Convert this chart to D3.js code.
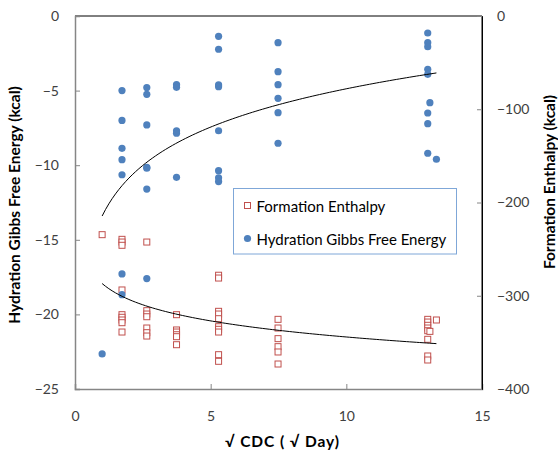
<!DOCTYPE html>
<html><head><meta charset="utf-8">
<script src="https://cdn.jsdelivr.net/npm/d3@7"></script>
<style>body{margin:0;background:#fff;} svg{display:block;font-family:Lato,"Liberation Sans",sans-serif;}</style>
</head><body>
<script>
const xTicks = [0, 5, 10, 15];
const leftTicks = [0, -5, -10, -15, -20, -25];
const rightTicks = [0, -100, -200, -300, -400];
const seriesNames = ["Formation Enthalpy", "Hydration Gibbs Free Energy"];

const gibbsX = [1,
  1.732,1.732,1.732,1.732,1.732,1.732,1.732,
  2.646,2.646,2.646,2.646,2.646,2.646,2.646,
  3.742,3.742,3.742,3.742,3.742,
  5.292,5.292,5.292,5.292,5.292,5.292,5.292,5.292,
  7.483,7.483,7.483,7.483,7.483,7.483,
  13,13,13,13,13,13,13,13,
  13.08,13.32];
const gibbsY = [-22.65,
  -5.0,-7.0,-8.87,-9.63,-10.64,-17.29,-18.68,
  -4.8,-5.25,-7.3,-10.14,-10.2,-11.6,-17.6,
  -4.6,-4.78,-7.69,-7.86,-10.81,
  -1.36,-2.23,-4.62,-4.74,-7.69,-10.37,-10.84,-11.1,
  -1.79,-3.73,-4.6,-5.52,-6.48,-8.53,
  -1.14,-1.79,-2.06,-3.57,-3.91,-6.5,-7.22,-9.2,
  -5.81,-9.6];

const enthX = [1,
  1.732,1.732,1.732,1.732,1.732,1.732,1.732,1.732,1.732,
  2.646,2.646,2.646,2.646,2.646,2.646,2.646,
  3.742,3.742,3.742,3.742,3.742,3.742,
  5.292,5.292,5.292,5.292,5.292,5.292,5.292,5.292,5.292,5.292,
  7.483,7.483,7.483,7.483,7.483,7.483,
  13,13,13,13,13,13,13,13,
  13.08,13.32];
const enthY = [-234.5,
  -239.5,-242.4,-245.9,-293.8,-320.3,-323.1,-326,-328.9,-338.9,
  -242.4,-316,-319.6,-322.5,-334.6,-339.6,-343.2,
  -320.3,-336.7,-338.9,-341.8,-343.9,-352.5,
  -278,-281,-316.7,-319.6,-324.6,-333.2,-336,-338.9,-363.2,-370.3,
  -325.3,-334.6,-346,-354.6,-360.3,-373.2,
  -325.3,-328.2,-331.7,-334.6,-337.5,-346.7,-364.6,-368.9,
  -338.2,-326];

const W = 558, H = 459;
const m = {left: 75, top: 16, right: 76, bottom: 70};
const pw = W - m.left - m.right, ph = H - m.top - m.bottom;

const svg = d3.select("body").append("svg").attr("width", W).attr("height", H);
const g = svg.append("g").attr("transform", `translate(${m.left},${m.top})`);

const x = d3.scaleLinear().domain([0, 15]).range([0, pw]);
const yL = d3.scaleLinear().domain([-25, 0]).range([ph, 0]);
const yR = d3.scaleLinear().domain([-400, 0]).range([ph, 0]);

// logarithmic trendline y = a + b ln x (least squares, as in the spreadsheet)
function logFit(xs, ys) {
  const lx = xs.map(Math.log);
  const mx = d3.mean(lx), my = d3.mean(ys);
  let sxy = 0, sxx = 0;
  lx.forEach((v, i) => { sxy += (v - mx) * (ys[i] - my); sxx += (v - mx) * (v - mx); });
  const b = sxy / sxx;
  return {a: my - b * mx, b};
}

// border
g.append("line").attr("x1", 0).attr("x2", pw).attr("y1", 0).attr("y2", 0).attr("stroke", "#000").attr("stroke-width", 1);
g.append("line").attr("x1", pw).attr("x2", pw).attr("y1", 0).attr("y2", ph).attr("stroke", "#000").attr("stroke-width", 1);

const tickColor = "#868686";
const ax = g.append("g").call(d3.axisLeft(yL).tickValues(leftTicks).tickSize(-5).tickPadding(16).tickFormat(d3.format("d")));
const bx = g.append("g").attr("transform", `translate(0,${ph})`).call(d3.axisBottom(x).tickValues(xTicks).tickSize(-5).tickPadding(22).tickFormat(d3.format("d")));
const rx = g.append("g").attr("transform", `translate(${pw},0)`).call(d3.axisRight(yR).tickValues(rightTicks).tickSize(-5).tickPadding(15).tickFormat(d3.format("d")));
[ax, bx, rx].forEach(a => {
  a.selectAll("path").attr("stroke", tickColor).attr("stroke-width", 1.5);
  a.selectAll("line").attr("stroke", tickColor);
  a.selectAll("text").attr("font-size", 14).attr("fill", "#404040").attr("font-family", "Lato, sans-serif");
});
rx.select("path").attr("stroke", "#000").attr("stroke-width", 1);

const gibbs = gibbsX.map((v, i) => ({x: v, y: gibbsY[i]}));
const enth = enthX.map((v, i) => ({x: v, y: enthY[i]}));

g.append("g").selectAll("rect").data(enth).join("rect")
  .attr("x", d => x(d.x) - 3).attr("y", d => yR(d.y) - 3)
  .attr("width", 6).attr("height", 6)
  .attr("fill", "#fff").attr("stroke", "#c0504d").attr("stroke-width", 1);

g.append("g").selectAll("circle").data(gibbs).join("circle")
  .attr("cx", d => x(d.x)).attr("cy", d => yL(d.y)).attr("r", 3.6)
  .attr("fill", "#4f81bd");

const xmin = d3.min(gibbsX), xmax = d3.max(gibbsX);
const xs = d3.range(0, 101).map(i => xmin + (xmax - xmin) * i / 100);
const fG = logFit(gibbsX, gibbsY);
const fE = logFit(enthX, enthY);
g.append("path").datum(xs).attr("fill", "none").attr("stroke", "#000").attr("stroke-width", 1)
  .attr("d", d3.line().x(d => x(d)).y(d => yL(fG.a + fG.b * Math.log(d))));
g.append("path").datum(xs).attr("fill", "none").attr("stroke", "#000").attr("stroke-width", 1)
  .attr("d", d3.line().x(d => x(d)).y(d => yR(fE.a + fE.b * Math.log(d))));

// legend
const lg = svg.append("g").attr("transform", "translate(233.5,188.5)");
lg.append("rect").attr("width", 223).attr("height", 65.5).attr("fill", "#fff").attr("stroke", "#7fa7d8").attr("stroke-width", 1);
lg.append("rect").attr("x", 11).attr("y", 14).attr("width", 6).attr("height", 6).attr("fill", "#fff").attr("stroke", "#c0504d");
lg.append("circle").attr("cx", 14).attr("cy", 50).attr("r", 3.6).attr("fill", "#4f81bd");
lg.append("text").attr("x", 23).attr("y", 18).attr("dy", "0.35em").attr("font-size", 15).attr("fill", "#000").text(seriesNames[0]);
lg.append("text").attr("x", 23).attr("y", 51.5).attr("dy", "0.35em").attr("font-size", 15).attr("fill", "#000").text(seriesNames[1]);

// titles
svg.append("text").attr("transform", "translate(15,205) rotate(-90)").attr("text-anchor", "middle").attr("dy", "0.35em")
  .attr("font-size", 15.5).attr("font-weight", "bold").attr("fill", "#000").text("Hydration Gibbs Free Energy (kcal)");
svg.append("text").attr("transform", "translate(550,182) rotate(-90)").attr("text-anchor", "middle").attr("dy", "0.35em")
  .attr("font-size", 15.5).attr("font-weight", "bold").attr("fill", "#000").text("Formation Enthalpy  (kcal)");
svg.append("text").attr("x", 282).attr("y", 442).attr("text-anchor", "middle").attr("dy", "0.35em")
  .attr("font-size", 15.5).attr("font-weight", "bold").attr("fill", "#000")
  .attr("textLength", 114).attr("lengthAdjust", "spacing").text("√ CDC ( √ Day)");
</script>
</body></html>
